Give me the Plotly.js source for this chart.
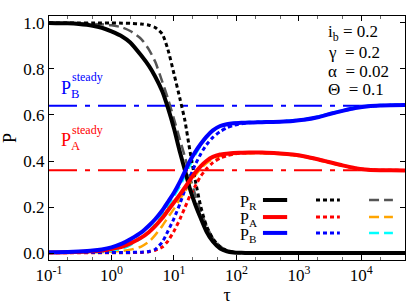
<!DOCTYPE html>
<html><head><meta charset="utf-8">
<script src="https://cdn.plot.ly/plotly-3.0.1.min.js"></script>
<style>html,body{margin:0;padding:0;background:#fff;font-family:"Liberation Serif",serif}#plot{width:415px;height:305px}
#plot svg text{font-family:"Liberation Serif",serif !important}</style>
</head><body><div id="plot"></div>
<script>
const tau = [0.1,0.2,0.3,0.5,0.7,1,1.5,2,3,4,5,6.5,8,10,12.5,15,18,22,27,33,42,55,70,90,120,160,220,300,500,800,1200,2000,3000,5000,8000,13000,20000,30000,50000];

const pR_solid = [1.0,0.998,0.995,0.988,0.979,0.963,0.94,0.915,0.858,0.812,0.767,0.703,0.632,0.542,0.438,0.36,0.28,0.21,0.15,0.095,0.05,0.02,0.008,0.003,0.001,0,0,0,0,0,0,0,0,0,0,0,0,0,0];
const pA_solid = [0.003,0.004,0.005,0.008,0.011,0.018,0.028,0.042,0.067,0.092,0.117,0.152,0.185,0.22,0.255,0.285,0.317,0.35,0.378,0.40,0.418,0.428,0.432,0.435,0.436,0.437,0.437,0.436,0.433,0.428,0.421,0.408,0.396,0.381,0.369,0.362,0.36,0.36,0.359];
const pB_solid = [0.004,0.005,0.007,0.011,0.016,0.025,0.042,0.06,0.09,0.12,0.147,0.185,0.222,0.262,0.31,0.355,0.40,0.44,0.475,0.505,0.533,0.552,0.56,0.564,0.566,0.567,0.568,0.569,0.571,0.574,0.579,0.59,0.603,0.618,0.63,0.638,0.641,0.642,0.643];

const pR_dot = [1,1,1,1,1,1,0.999,0.998,0.995,0.99,0.98,0.952,0.885,0.78,0.67,0.575,0.445,0.315,0.2,0.12,0.063,0.027,0.011,0.004,0.001,0,0,0,0,0,0,0,0,0,0,0,0,0,0];
const pA_dot = [0.001,0.001,0.001,0.001,0.001,0.001,0.001,0.002,0.003,0.006,0.012,0.026,0.052,0.095,0.148,0.198,0.248,0.292,0.335,0.365,0.393,0.413,0.423,0.43,0.434,0.436,0.437,0.436,0.433,0.428,0.421,0.408,0.396,0.381,0.369,0.362,0.36,0.36,0.359];
const pB_dot = [0.003,0.003,0.003,0.003,0.003,0.003,0.003,0.003,0.004,0.007,0.016,0.048,0.095,0.15,0.215,0.275,0.33,0.385,0.432,0.47,0.503,0.528,0.544,0.555,0.562,0.566,0.568,0.569,0.571,0.574,0.579,0.59,0.603,0.618,0.63,0.638,0.641,0.642,0.643];

const pR_dash = [1.0,0.999,0.998,0.996,0.994,0.99,0.98,0.965,0.93,0.883,0.832,0.745,0.672,0.583,0.492,0.418,0.333,0.252,0.18,0.12,0.065,0.03,0.012,0.005,0.002,0,0,0,0,0,0,0,0,0,0,0,0,0,0];
const pA_dash = [0.001,0.001,0.002,0.003,0.004,0.006,0.01,0.015,0.028,0.05,0.078,0.118,0.155,0.192,0.235,0.268,0.302,0.338,0.368,0.39,0.41,0.422,0.428,0.431,0.433,0.434,0.434,0.433,0.43,0.425,0.418,0.405,0.393,0.379,0.367,0.361,0.359,0.358,0.358];
const pB_dash = [0.002,0.002,0.003,0.004,0.006,0.01,0.02,0.035,0.065,0.095,0.125,0.165,0.205,0.247,0.292,0.335,0.38,0.428,0.468,0.502,0.53,0.55,0.56,0.565,0.567,0.569,0.57,0.571,0.573,0.577,0.582,0.593,0.606,0.621,0.633,0.64,0.643,0.644,0.645];

const steadyTau = [0.1, 50000];
const pA_steady = 0.36;
const pB_steady = 0.64;

const xTickVals = [0.1, 1, 10, 100, 1000, 10000];
const xTickText = ["10<sup>-1</sup>", "10<sup>0</sup>", "10<sup>1</sup>", "10<sup>2</sup>", "10<sup>3</sup>", "10<sup>4</sup>"];
const yTickVals = [0, 0.2, 0.4, 0.6, 0.8, 1.0];
const yTickText = ["0.0", "0.2", "0.4", "0.6", "0.8", "1.0"];

const params = ["i<sub>b</sub> = 0.2", "γ  = 0.2", "α  = 0.02", "Θ  = 0.1"];
const legendLabels = ["P<sub>R</sub>", "P<sub>A</sub>", "P<sub>B</sub>"];

const FONT = "Liberation Serif";
const dotDash = "4px,3px";
const longDash = "10px,5px";
const dashDot = "28px,8px,5px,8px";

function tr(y, color, width, dash) {
  return {x: tau, y: y, type: 'scatter', mode: 'lines', showlegend: false, hoverinfo: 'skip',
    line: {color: color, width: width, dash: dash, shape: 'spline', smoothing: 0.6}};
}
const data = [
  {x: steadyTau, y: [pB_steady, pB_steady], mode: 'lines', showlegend: false, line: {color: '#0000ff', width: 2, dash: dashDot}},
  {x: steadyTau, y: [pA_steady, pA_steady], mode: 'lines', showlegend: false, line: {color: '#ff0000', width: 2, dash: dashDot}},
  tr(pR_dash, '#555555', 2.5, longDash),
  tr(pA_dash, '#ffa500', 2.5, longDash),
  tr(pB_dash, '#00ffff', 2.5, longDash),
  tr(pR_dot, '#000000', 3, dotDash),
  tr(pA_dot, '#ff0000', 3, dotDash),
  tr(pB_dot, '#0000ff', 3, dotDash),
  tr(pR_solid, '#000000', 4, 'solid'),
  tr(pA_solid, '#ff0000', 4, 'solid'),
  tr(pB_solid, '#0000ff', 4, 'solid')
];

const rowY = [0.246, 0.176, 0.111];
const rowColors = [['#000000','#000000','#555555'],['#ff0000','#ff0000','#ffa500'],['#0000ff','#0000ff','#00ffff']];
const colX = [[0.601,0.669],[0.75,0.817],[0.899,0.966]];
const colDash = ['solid', dotDash, longDash];
const colW = [4, 3, 2.5];
const shapes = [];
const annotations = [];
for (let r = 0; r < 3; r++) {
  for (let c = 0; c < 3; c++) {
    shapes.push({type: 'line', xref: 'paper', yref: 'paper', x0: colX[c][0], x1: colX[c][1], y0: rowY[r], y1: rowY[r],
      line: {color: rowColors[r][c], width: colW[c], dash: colDash[c]}});
  }
  annotations.push({xref: 'paper', yref: 'paper', x: 0.531, y: rowY[r] - 0.01, xanchor: 'left', yanchor: 'middle',
    text: legendLabels[r], showarrow: false, font: {family: FONT, size: 16, color: '#000'}});
}
const paramY = [0.93, 0.852, 0.772, 0.697];
params.forEach((t, i) => annotations.push({xref: 'paper', yref: 'paper', x: 0.778, y: paramY[i], xanchor: 'left', yanchor: 'middle',
  text: t, showarrow: false, font: {family: FONT, size: 17, color: '#000'}}));
annotations.push({xref: 'paper', yref: 'paper', x: 0.027, y: 0.7, xanchor: 'left', yanchor: 'middle', text: 'P<sub>B</sub>', showarrow: false, font: {family: FONT, size: 18, color: '#0000ff'}});
annotations.push({xref: 'paper', yref: 'paper', x: 0.058, y: 0.748, xanchor: 'left', yanchor: 'middle', text: 'steady', showarrow: false, font: {family: FONT, size: 12, color: '#0000ff'}});
annotations.push({xref: 'paper', yref: 'paper', x: 0.027, y: 0.485, xanchor: 'left', yanchor: 'middle', text: 'P<sub>A</sub>', showarrow: false, font: {family: FONT, size: 18, color: '#ff0000'}});
annotations.push({xref: 'paper', yref: 'paper', x: 0.058, y: 0.533, xanchor: 'left', yanchor: 'middle', text: 'steady', showarrow: false, font: {family: FONT, size: 12, color: '#ff0000'}});

const layout = {
  width: 415, height: 305,
  margin: {l: 49, r: 10, t: 16, b: 45},
  paper_bgcolor: '#fff', plot_bgcolor: '#fff',
  font: {family: FONT, size: 17, color: '#000'},
  xaxis: {type: 'log', range: [-1, Math.log10(50000)], tickmode: 'array', tickvals: xTickVals, ticktext: xTickText,
    showgrid: false, zeroline: false,
    showline: true, linecolor: '#000', linewidth: 1, mirror: 'ticks', ticks: 'inside', ticklen: 5, tickcolor: '#000',
    minor: {ticks: 'inside', ticklen: 3, tickcolor: '#666', showgrid: false},
    tickfont: {family: FONT, size: 17}, title: {text: 'τ', font: {family: FONT, size: 18}, standoff: 4}},
  yaxis: {range: [-0.03, 1.03], tickmode: 'array', tickvals: yTickVals, ticktext: yTickText, showgrid: false, zeroline: false,
    showline: true, linecolor: '#000', linewidth: 1, mirror: 'ticks', ticks: 'inside', ticklen: 5, tickcolor: '#000',
    tickfont: {family: FONT, size: 17}, title: {text: 'P', font: {family: FONT, size: 18}, standoff: 8}},
  shapes: shapes, annotations: annotations
};
Plotly.newPlot('plot', data, layout, {displayModeBar: false});
</script></body></html>
